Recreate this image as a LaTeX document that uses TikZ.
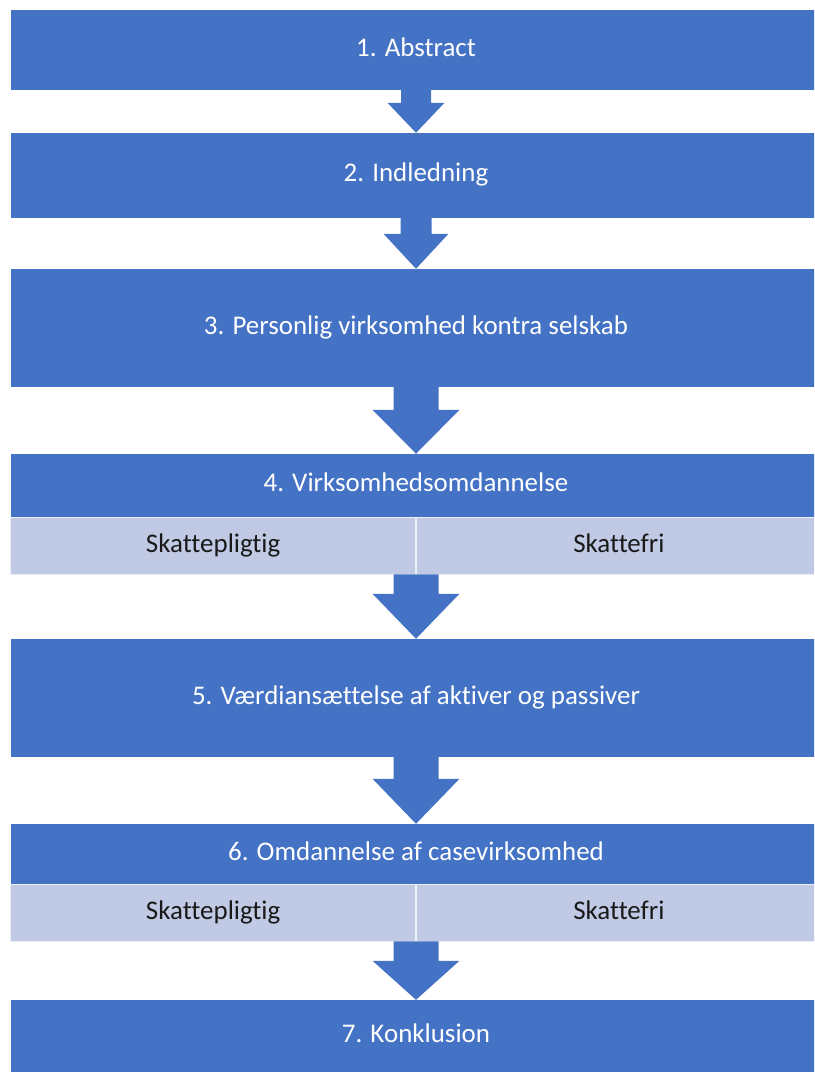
\documentclass[tikz,border=0pt]{standalone}
\usepackage{fontspec}
\setsansfont{Carlito}[Ligatures=NoCommon]
\usetikzlibrary{calc}

\definecolor{stepblue}{HTML}{4472C4}
\definecolor{bandgray}{RGB}{193,202,229}

% block arrow: start anchor, tip anchor, half shaft, half head, head length
\newcommand{\flowarrow}[5]{%
  \fill[stepblue] ($(#1)+(-#3,0)$) -- ($(#1)+(#3,0)$) -- ($(#2)+(#3,-#5)$) -- ($(#2)+(#4,-#5)$)
    -- (#2) -- ($(#2)+(-#4,-#5)$) -- ($(#2)+(-#3,-#5)$) -- cycle;}

\begin{document}
\begin{tikzpicture}[x=0.03cm, y=-0.03cm, font=\sffamily\fontsize{23}{28}\selectfont,
  stepbox/.style={fill=stepblue, text=white, minimum width=24.3cm, inner sep=0pt,
    text height=16pt, text depth=5pt},
  subbox/.style={fill=bandgray, draw=white!70!bandgray, line width=0.6pt, text=black!90,
    minimum width=12.15cm, minimum height=1.69cm, inner sep=0pt,
    text height=16pt, text depth=5pt}]
  \useasboundingbox (0,0) rectangle (814,1072);
  \clip (0,0) rectangle (814,1072);

  \node[stepbox, minimum height=2.4cm] (abstract) at (416,50) {1. Abstract};
  \node[stepbox, minimum height=2.55cm] (indledning) at (416,175.5) {2. Indledning};
  \node[stepbox, minimum height=3.54cm] (personlig) at (416,328) {3. Personlig virksomhed kontra selskab};

  \node[stepbox, minimum height=1.89cm] (omdannelse) at (416,485.5) {4. Virksomhedsomdannelse};
  \node[subbox, anchor=north east] (pligt4) at (omdannelse.south) {Skattepligtig};
  \node[subbox, anchor=north west] (fri4) at (omdannelse.south) {Skattefri};

  \node[stepbox, minimum height=3.54cm] (vaerdi) at (416,698) {5. Værdiansættelse af aktiver og passiver};

  \node[stepbox, minimum height=1.8cm] (casevirk) at (416,854) {6. Omdannelse af casevirksomhed};
  \node[subbox, anchor=north east] (pligt6) at (casevirk.south) {Skattepligtig};
  \node[subbox, anchor=north west] (fri6) at (casevirk.south) {Skattefri};

  \node[stepbox, minimum height=2.16cm] (konklusion) at (416,1036) {7. Konklusion};

  % arrows between the steps
  \flowarrow{abstract.south}{indledning.north}{15}{28.5}{30}
  \flowarrow{indledning.south}{personlig.north}{15.5}{32.5}{35}
  \flowarrow{personlig.south}{omdannelse.north}{22.5}{43.5}{44}
  \flowarrow{pligt4.south east}{vaerdi.north}{22.5}{43.5}{45}
  \flowarrow{vaerdi.south}{casevirk.north}{22.5}{43.5}{45}
  \flowarrow{pligt6.south east}{konklusion.north}{22.5}{43.5}{39}
\end{tikzpicture}
\end{document}
